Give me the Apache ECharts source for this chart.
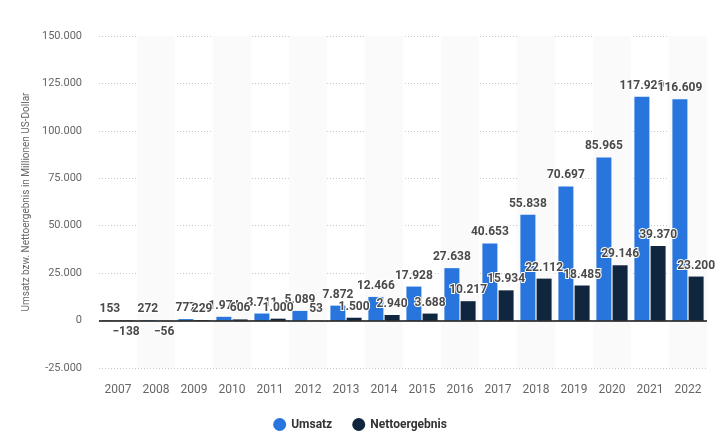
<!DOCTYPE html>
<html><head><meta charset="utf-8">
<script src="https://cdn.jsdelivr.net/npm/echarts@6/dist/echarts.min.js"></script>
<style>html,body{margin:0;padding:0;background:#fff}#c{width:720px;height:442px}</style>
</head><body><div id="c"></div>
<script>
const years = ['2007','2008','2009','2010','2011','2012','2013','2014','2015','2016','2017','2018','2019','2020','2021','2022'];
const umsatz = [153,272,777,1974,3711,5089,7872,12466,17928,27638,40653,55838,70697,85965,117929,116609];
const netto = [-138,-56,229,606,1000,53,1500,2940,3688,10217,15934,22112,18485,29146,39370,23200];
const yTicks = [-25000,0,25000,50000,75000,100000,125000,150000];

const fmt = v => {
  const s = Math.abs(v).toString().replace(/\B(?=(\d{3})+(?!\d))/g, '.');
  return (v < 0 ? '\u2212' : '') + s;
};
const labelStyle = {
  show: true, fontSize: 12, fontWeight: 'bold', color: '#4a4a4a',
  fontFamily: 'Roboto, "Noto Sans", sans-serif',
  textBorderColor: '#fff', textBorderWidth: 2,
  formatter: p => fmt(p.value)
};
const toData = arr => arr.map(v => v < 0 ? {value: v, label: {position: 'bottom'}} : v);

const chart = echarts.init(document.getElementById('c'));
chart.setOption({
  animation: false,
  grid: {left: 99, right: 13, top: 36, bottom: 74, containLabel: false},
  legend: {
    bottom: 6, left: 'center', icon: 'circle', itemWidth: 13, itemHeight: 13, itemGap: 20,
    textStyle: {fontSize: 12, fontWeight: 'bold', color: '#333', fontFamily: '"Liberation Sans Narrow", Roboto, sans-serif'},
    data: ['Umsatz', 'Nettoergebnis']
  },
  xAxis: {
    type: 'category', data: years,
    axisLine: {show: false}, axisTick: {show: false},
    axisLabel: {color: '#666', fontSize: 12, margin: 16, fontFamily: 'Roboto, sans-serif'},
    splitArea: {show: true, areaStyle: {color: ['rgba(255,255,255,0)', '#fafafa']}}
  },
  yAxis: {
    type: 'value', min: -25000, max: 150000, interval: 25000,
    name: 'Umsatz bzw. Nettoergebnis in Millionen US-Dollar',
    nameLocation: 'middle', nameGap: 62, nameRotate: 90,
    nameTextStyle: {color: '#666', fontSize: 10, fontFamily: 'Roboto, sans-serif'},
    axisLine: {show: false}, axisTick: {show: false},
    axisLabel: {color: '#666', fontSize: 11, margin: 17, fontFamily: 'Roboto, sans-serif', formatter: v => yTicks.includes(v) ? fmt(v).replace('\u2212','-') : ''},
    splitLine: {lineStyle: {color: '#c8c8c8', type: [1, 2], width: 1}}
  },
  series: [
    {name: 'Umsatz', type: 'bar', data: toData(umsatz), barWidth: 15, barGap: '8%',
     itemStyle: {color: '#2876dd'}, label: Object.assign({position: 'top', distance: 5}, labelStyle),
     markLine: {silent: true, symbol: 'none', label: {show: false}, lineStyle: {color: '#111', type: 'solid', width: 1.5}, data: [{yAxis: 0}]}},
    {name: 'Nettoergebnis', type: 'bar', data: toData(netto), barWidth: 15,
     itemStyle: {color: '#10263f'}, label: Object.assign({position: 'top', distance: 5}, labelStyle)}
  ]
});
</script></body></html>
